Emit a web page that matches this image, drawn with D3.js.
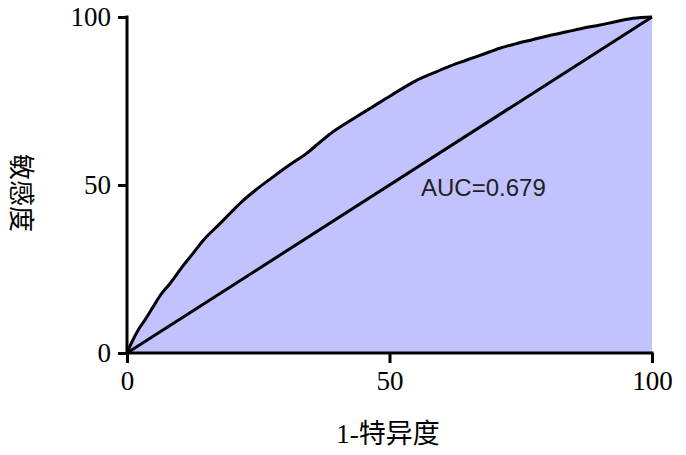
<!DOCTYPE html>
<html>
<head>
<meta charset="utf-8">
<script src="https://cdn.jsdelivr.net/npm/d3@7"></script>
<style>
  body { margin: 0; background: #fff; }
  svg { display: block; }
</style>
</head>
<body>
<svg id="chart" width="686" height="455"></svg>
<script>
// ---- data ----
const fpr = [0, 1, 2, 3.4, 5, 6.5, 8.2, 10.7, 12.5, 14.5, 17.7, 19.6, 21.5, 24.5, 27.9, 31, 34.2, 36.8, 39.3, 43.7, 46.5, 49.4, 52, 55, 58.3, 61.5, 64.7, 68, 71, 74, 77.4, 80.5, 83.8, 87, 90.1, 93, 96.4, 100];
const tpr = [0, 3.5, 6.5, 9.8, 13.8, 17.5, 20.7, 26, 29.5, 33.5, 38.5, 41.5, 44.5, 48.5, 52.5, 56, 59.4, 62.8, 65.9, 70.3, 73, 75.8, 78.3, 81, 83.3, 85.4, 87.2, 89, 90.7, 92, 93.3, 94.5, 95.6, 96.7, 97.6, 98.6, 99.6, 100];
const refX = [0, 100];
const refY = [0, 100];
const xTicks = [0, 50, 100];
const yTicks = [0, 50, 100];
const xTitle = "1-特异度";
const yTitle = "敏感度";
const aucLabel = "AUC=0.679";
const aucPos = [56.0, 46.8];

// ---- layout ----
const svg = d3.select("#chart");
const x = d3.scaleLinear().domain([0, 100]).range([127, 652]);
const y = d3.scaleLinear().domain([0, 100]).range([353, 17]);
const pts = fpr.map((d, i) => [d, tpr[i]]);

svg.append("path")
  .datum(pts)
  .attr("fill", "#c2c2ff")
  .attr("d", d3.area().curve(d3.curveMonotoneX).x(d => x(d[0])).y0(y(0)).y1(d => y(d[1])));

svg.append("path")
  .datum(refX.map((d, i) => [d, refY[i]]))
  .attr("fill", "none").attr("stroke", "#000").attr("stroke-width", 3)
  .attr("d", d3.line().x(d => x(d[0])).y(d => y(d[1])));

svg.append("path")
  .datum(pts)
  .attr("fill", "none").attr("stroke", "#000").attr("stroke-width", 3)
  .attr("stroke-linejoin", "round")
  .attr("d", d3.line().curve(d3.curveMonotoneX).x(d => x(d[0])).y(d => y(d[1])));

const serif = "'Liberation Serif', 'Times New Roman', serif";

const xAxis = svg.append("g").attr("transform", `translate(0,${y(0)})`)
  .call(d3.axisBottom(x).tickValues(xTicks).tickSize(10).tickSizeOuter(0).tickPadding(8));
const yAxis = svg.append("g").attr("transform", `translate(${x(0)},0)`)
  .call(d3.axisLeft(y).tickValues(yTicks).tickSize(9).tickSizeOuter(0).tickPadding(7));

[xAxis, yAxis].forEach(g => {
  g.select(".domain").attr("stroke", "#000").attr("stroke-width", 3);
  g.selectAll(".tick line").attr("stroke", "#000").attr("stroke-width", 3);
  g.selectAll(".tick text").attr("fill", "#000")
    .style("font-family", serif).style("font-size", "27px");
});
yAxis.select(".domain").attr("d", `M0,${y(0) + 1.5}V${y(100) - 1.5}`);
xAxis.select(".domain").attr("d", `M${x(0) - 1.5},0H${x(100) + 1.5}`);

svg.append("text")
  .attr("x", 388).attr("y", 443)
  .attr("text-anchor", "middle")
  .style("font-family", "'Liberation Serif', 'Noto Sans CJK SC', serif")
  .style("font-size", "27px")
  .text(xTitle);

svg.append("text")
  .attr("transform", "translate(12,193) rotate(90)")
  .attr("text-anchor", "middle")
  .style("font-family", "'Noto Sans CJK SC', serif")
  .style("font-size", "26px")
  .text(yTitle);

svg.append("text")
  .attr("x", x(aucPos[0])).attr("y", y(aucPos[1]))
  .style("font-family", "'Liberation Sans', Arial, sans-serif")
  .style("font-size", "24px")
  .attr("fill", "#222")
  .text(aucLabel);
</script>
</body>
</html>
